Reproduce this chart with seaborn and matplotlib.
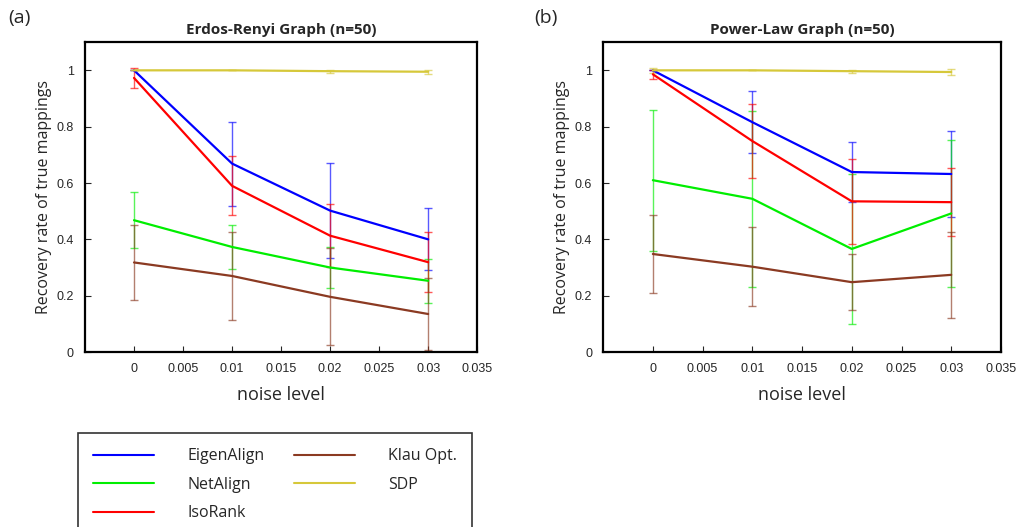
import pandas as pd
import numpy as np
import matplotlib
matplotlib.use("Agg")
import matplotlib.pyplot as plt
import seaborn as sns

# ---- data ----
noise = [0.0, 0.01, 0.02, 0.03]
methods = ["EigenAlign", "NetAlign", "IsoRank", "Klau Opt.", "SDP"]
colors = {"EigenAlign": "#0000ff", "NetAlign": "#00ee00", "IsoRank": "#ff0000",
          "Klau Opt.": "#8b3a22", "SDP": "#d6c83a"}

# Erdos-Renyi graph
er_eigen = [1.0, 0.669, 0.502, 0.400]
er_eigen_err = [0.0, 0.149, 0.168, 0.110]
er_net = [0.468, 0.373, 0.300, 0.253]
er_net_err = [0.100, 0.077, 0.072, 0.079]
er_iso = [0.973, 0.590, 0.413, 0.319]
er_iso_err = [0.034, 0.105, 0.111, 0.106]
er_klau = [0.318, 0.270, 0.196, 0.135]
er_klau_err = [0.133, 0.157, 0.172, 0.127]
er_sdp = [1.0, 1.0, 0.997, 0.995]
er_sdp_err = [0.0, 0.0, 0.005, 0.007]

# Power-law graph
pl_eigen = [1.0, 0.816, 0.639, 0.632]
pl_eigen_err = [0.0, 0.109, 0.108, 0.153]
pl_net = [0.610, 0.544, 0.366, 0.492]
pl_net_err = [0.250, 0.312, 0.265, 0.262]
pl_iso = [0.986, 0.749, 0.535, 0.532]
pl_iso_err = [0.015, 0.131, 0.150, 0.121]
pl_klau = [0.348, 0.303, 0.248, 0.274]
pl_klau_err = [0.137, 0.140, 0.100, 0.153]
pl_sdp = [1.0, 1.0, 0.997, 0.994]
pl_sdp_err = [0.010, 0.0, 0.005, 0.010]


def make_frame(vals, errs):
    rows = []
    for m, v, e in zip(methods, vals, errs):
        for x, y, s in zip(noise, v, e):
            rows.append({"noise": x, "rate": y, "err": s, "method": m})
    return pd.DataFrame(rows)


df_er = make_frame([er_eigen, er_net, er_iso, er_klau, er_sdp],
                   [er_eigen_err, er_net_err, er_iso_err, er_klau_err, er_sdp_err])
df_pl = make_frame([pl_eigen, pl_net, pl_iso, pl_klau, pl_sdp],
                   [pl_eigen_err, pl_net_err, pl_iso_err, pl_klau_err, pl_sdp_err])

sns.set_style("white")
plt.rcParams["font.family"] = ["Liberation Sans", "DejaVu Sans"]
label_font = ["Open Sans", "DejaVu Sans"]

fig = plt.figure(figsize=(10.24, 5.27), dpi=100)
ax_a = fig.add_axes([0.083, 0.332, 0.383, 0.588])
ax_b = fig.add_axes([0.589, 0.332, 0.3885, 0.588])


def draw_panel(ax, df, title):
    for m in methods:
        sub = df[df["method"] == m]
        ax.errorbar(sub["noise"], sub["rate"], yerr=sub["err"], fmt="none",
                    ecolor=colors[m], elinewidth=1.0, capsize=3, capthick=1.0,
                    alpha=0.65, zorder=2)
    sns.lineplot(data=df, x="noise", y="rate", hue="method", hue_order=methods,
                 palette=colors, linewidth=1.6, ax=ax, legend=False, zorder=3)
    ax.set_xlim(-0.005, 0.035)
    ax.set_ylim(0, 1.1)
    ax.set_xticks([0, 0.005, 0.01, 0.015, 0.02, 0.025, 0.03, 0.035])
    ax.set_xticklabels(["0", "0.005", "0.01", "0.015", "0.02", "0.025", "0.03", "0.035"])
    ax.set_yticks([0, 0.2, 0.4, 0.6, 0.8, 1.0])
    ax.set_yticklabels(["0", "0.2", "0.4", "0.6", "0.8", "1"])
    ax.tick_params(direction="in", length=4, width=0.8, labelsize=9, pad=8,
                   bottom=True, left=True, top=False, right=False)
    for sp in ax.spines.values():
        sp.set_color("black")
        sp.set_linewidth(1.6)
    ax.set_title(title, fontsize=11, fontweight="bold", family=label_font, pad=6)
    ax.set_xlabel("noise level", fontsize=13, family=label_font, labelpad=8)
    ax.set_ylabel("Recovery rate of true mappings", fontsize=11.5, family=label_font,
                  labelpad=3)


draw_panel(ax_a, df_er, "Erdos-Renyi Graph (n=50)")
draw_panel(ax_b, df_pl, "Power-Law Graph (n=50)")

fig.text(0.008, 0.965, "(a)", fontsize=14, family=label_font, va="center")
fig.text(0.522, 0.965, "(b)", fontsize=14, family=label_font, va="center")

handles = [plt.Line2D([], [], color=colors[m], linewidth=1.5) for m in methods]
leg = fig.legend(handles, methods, loc="upper left", bbox_to_anchor=(0.076, 0.178),
                 ncol=2, frameon=True, fancybox=False, edgecolor="black",
                 prop={"family": label_font, "size": 11.5}, handlelength=3.8,
                 handletextpad=2.1, columnspacing=1.85, labelspacing=0.78,
                 borderpad=0.95, borderaxespad=0)
leg.get_frame().set_linewidth(1.2)

fig.savefig("out.png", dpi=100)
